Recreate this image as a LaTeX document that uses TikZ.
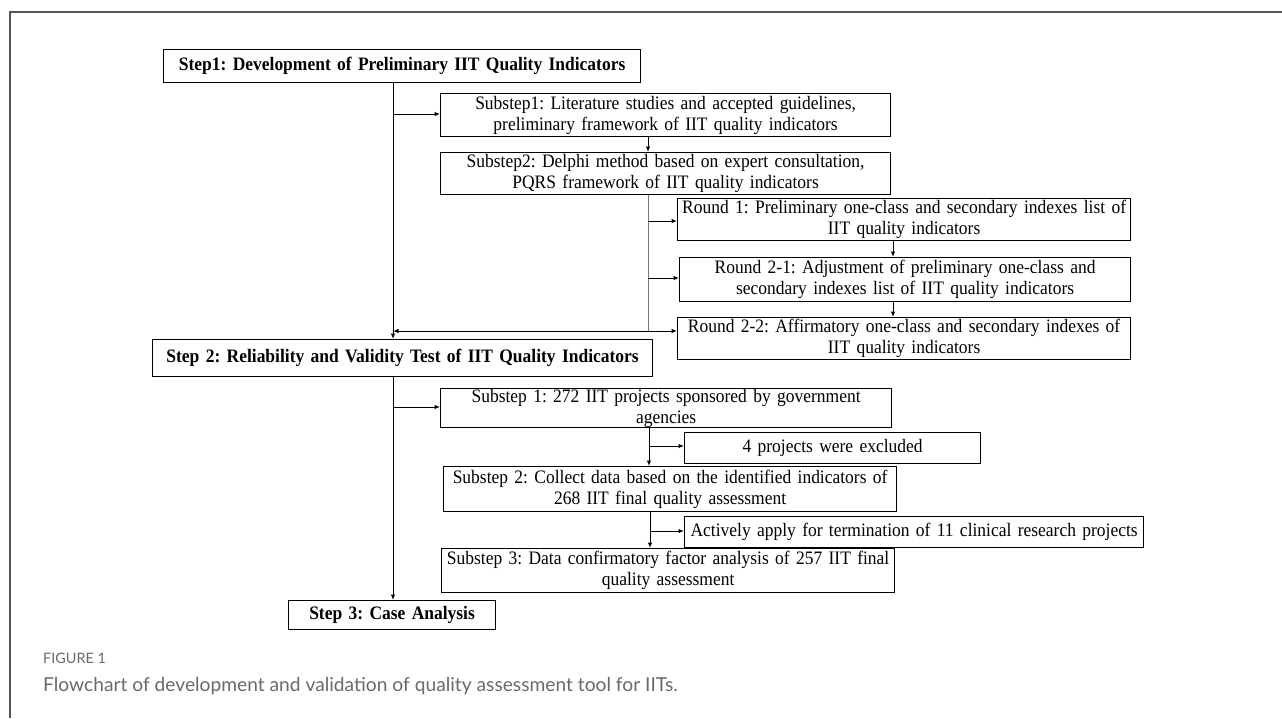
\documentclass[tikz,border=0pt]{standalone}
\usepackage{fontspec}
\setmainfont{Liberation Serif}[FakeStretch=0.92, WordSpace=0.85]
\newfontfamily\capfont{Lato}
\frenchspacing
\usetikzlibrary{positioning, arrows.meta}
\definecolor{framecol}{RGB}{85, 85, 85}
\definecolor{capcol}{RGB}{105, 105, 105}
\definecolor{thincol}{RGB}{120, 120, 120}
\tikzset{
  block/.style={draw, line width=1.2pt, inner sep=0pt, align=center,
                anchor=north west, font=\fontsize{19}{21}\selectfont},
  stepbox/.style={block, font=\fontsize{19}{21}\selectfont\bfseries},
  flow/.style={-{Latex[length=5.5pt, width=4.5pt]}, line width=1pt},
}

\begin{document}
\begin{tikzpicture}[x=1pt, y=-1pt]
  \useasboundingbox (0,0) rectangle (1282,718);
  \draw[framecol, line width=1.5pt] (10,718) -- (10,12) -- (1282,12);

  % stage 1
  \node[stepbox, text width=477pt, minimum height=33pt] (step1) at (163,49)
    {Step1: Development of Preliminary IIT Quality Indicators};
  \node[block, text width=450pt, minimum height=43pt] (sub1a) at (440,93)
    {Substep1: Literature studies and accepted guidelines,\\preliminary framework of IIT quality indicators};
  \node[block, text width=450pt, minimum height=42pt] (sub2a) at (440,152)
    {Substep2: Delphi method based on expert consultation,\\PQRS framework of IIT quality indicators};
  \node[block, text width=453pt, minimum height=42pt] (round1) at (677,198)
    {Round 1: Preliminary one-class and secondary indexes list of\\IIT quality indicators};
  \node[block, text width=451pt, minimum height=44pt] (round2a) at (679,257)
    {Round 2-1: Adjustment of preliminary one-class and\\secondary indexes list of IIT quality indicators};
  \node[block, text width=453pt, minimum height=42pt] (round2b) at (677,317)
    {Round 2-2: Affirmatory one-class and secondary indexes of\\IIT quality indicators};

  % stage 2
  \node[stepbox, text width=500pt, minimum height=37pt] (step2) at (152,339)
    {Step 2: Reliability and Validity Test of IIT Quality Indicators};
  \node[block, text width=451pt, minimum height=39pt] (sub1b) at (440,388)
    {Substep 1: 272 IIT projects sponsored by government\\agencies};
  \node[block, text width=296pt, minimum height=31pt] (excl) at (684,432)
    {4 projects were excluded};
  \node[block, text width=453pt, minimum height=45pt] (sub2b) at (443,466)
    {Substep 2: Collect data based on the identified indicators of\\268 IIT final quality assessment};
  \node[block, text width=459pt, minimum height=31pt] (term) at (684,516)
    {Actively apply for termination of 11 clinical research projects};
  \node[block, text width=453pt, minimum height=44pt] (sub3b) at (441,548)
    {Substep 3: Data confirmatory factor analysis of 257 IIT final\\quality assessment};

  % stage 3
  \node[stepbox, text width=207pt, minimum height=29pt] (step3) at (288,600)
    {Step 3: Case Analysis};

  % caption
  \node[anchor=west, inner sep=0pt, text=capcol, font=\capfont\fontsize{14.4}{17}\selectfont] (fig) at (43,658) {FIGURE 1};
  \node[anchor=west, inner sep=0pt, text=capcol, font=\capfont\fontsize{19.2}{22}\selectfont] (cap) at (43,686)
    {Flowchart of development and validation of quality assessment tool for IITs.};

  % connectors
  \coordinate (spine) at (393,0);
  \coordinate (midx) at (648,0);
  \coordinate (rx) at (893,0);
  \coordinate (j1) at (393,114);
  \coordinate (j2) at (648,221);
  \coordinate (j3) at (648,278);
  \coordinate (j4) at (648,331);
  \coordinate (j5) at (393,407);
  \coordinate (j6) at (649,446);
  \coordinate (j7) at (650,531);

  \draw[flow] (step1.south -| spine) -- (step2.north -| spine);
  \draw[flow] (j1) -- (j1 -| sub1a.west);
  \draw[flow] (sub1a.south -| midx) -- (sub2a.north -| midx);
  \draw[thincol, line width=0.8pt] (sub2a.south -| midx) -- (j4);
  \draw[flow] (j2) -- (j2 -| round1.west);
  \draw[flow] (j3) -- (j3 -| round2a.west);
  \draw[flow] (j4) -- (j4 -| round2b.west);
  \draw[flow] (j4) -- (j4 -| spine);
  \draw[flow] (round1.south -| rx) -- (round2a.north -| rx);
  \draw[flow] (round2a.south -| rx) -- (round2b.north -| rx);

  \draw[flow] (step2.south -| spine) -- (step3.north -| spine);
  \draw[flow] (j5) -- (j5 -| sub1b.west);
  \draw[flow] (sub1b.south -| j6) -- (sub2b.north -| j6);
  \draw[flow] (j6) -- (j6 -| excl.west);
  \draw[flow] (sub2b.south -| j7) -- (sub3b.north -| j7);
  \draw[flow] (j7) -- (j7 -| term.west);
\end{tikzpicture}
\end{document}
